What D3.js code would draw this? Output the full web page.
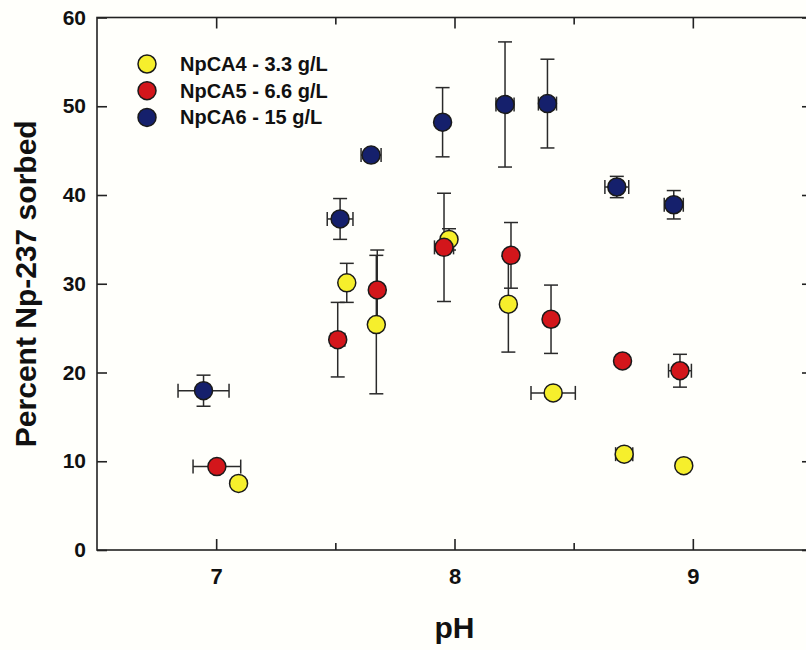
<!DOCTYPE html>
<html>
<head>
<meta charset="utf-8">
<script src="https://cdn.jsdelivr.net/npm/d3@7/dist/d3.min.js"></script>
<style>
  html, body { margin: 0; padding: 0; background: #fffffb; }
  svg { display: block; font-family: "Liberation Sans", Arial, sans-serif; font-weight: bold; }
</style>
</head>
<body>
<svg id="chart" width="806" height="650"></svg>
<script>
// Np-237 sorption vs pH for three solid loadings
const seriesNames = ["NpCA4 - 3.3 g/L", "NpCA5 - 6.6 g/L", "NpCA6 - 15 g/L"];
const seriesColors = ["#f6ef2c", "#d3161b", "#15206c"];

const npca4_pH   = [7.094, 7.548, 7.672, 7.977, 8.226, 8.414, 8.712, 8.962];
const npca4_pct  = [7.5, 30.1, 25.4, 35.0, 27.7, 17.7, 10.8, 9.5];
const npca4_yErr = [0, 2.2, 7.8, 1.2, 5.4, 0, 0, 0];
const npca4_xErr = [0, 0, 0, 0, 0, 0.093, 0.036, 0];

const npca5_pH   = [7.003, 7.51, 7.676, 7.956, 8.237, 8.405, 8.705, 8.946];
const npca5_pct  = [9.4, 23.7, 29.3, 34.1, 33.2, 26.0, 21.3, 20.2];
const npca5_yErr = [0, 4.2, 4.5, 6.1, 3.7, 3.85, 0, 1.85];
const npca5_xErr = [0.1, 0.03, 0, 0.04, 0, 0, 0, 0.048];

const npca6_pH   = [6.947, 7.52, 7.65, 7.95, 8.212, 8.39, 8.681, 8.92];
const npca6_pct  = [17.95, 37.3, 44.5, 48.2, 50.2, 50.3, 40.9, 38.9];
const npca6_yErr = [1.75, 2.3, 0, 3.9, 7.05, 5.0, 1.2, 1.6];
const npca6_xErr = [0.107, 0.054, 0.042, 0, 0.038, 0.038, 0.05, 0.04];

const xMajorTicks = [7, 8, 9];
const xMinorTicks = [7.5, 8.5];
const yTicks = [0, 10, 20, 30, 40, 50, 60];

const series = [
  { name: seriesNames[0], color: seriesColors[0], pH: npca4_pH, pct: npca4_pct, yErr: npca4_yErr, xErr: npca4_xErr },
  { name: seriesNames[1], color: seriesColors[1], pH: npca5_pH, pct: npca5_pct, yErr: npca5_yErr, xErr: npca5_xErr },
  { name: seriesNames[2], color: seriesColors[2], pH: npca6_pH, pct: npca6_pct, yErr: npca6_yErr, xErr: npca6_xErr }
];

const svg = d3.select("#chart");
const plotL = 97, plotR = 812, plotT = 17.5, plotB = 550;

const x = d3.scaleLinear().domain([6.5, 9.5]).range([plotL, plotR]);
const y = d3.scaleLinear().domain([0, 60]).range([plotB, plotT]);

const ink = "#222";

// frame
svg.append("rect")
  .attr("x", plotL).attr("y", plotT)
  .attr("width", plotR - plotL).attr("height", plotB - plotT)
  .attr("fill", "none").attr("stroke", ink).attr("stroke-width", 1.6);

function styleAxis(g) {
  g.select(".domain").remove();
  g.selectAll(".tick line").attr("stroke", ink).attr("stroke-width", 1.6);
  g.selectAll(".tick text").attr("fill", "#111").attr("font-weight", "bold");
}

// bottom axis: major ticks with labels, minor ticks without
svg.append("g").attr("transform", `translate(0,${plotB})`)
  .call(d3.axisBottom(x).tickValues(xMajorTicks).tickSizeInner(-11).tickSizeOuter(0)
        .tickPadding(18).tickFormat(d3.format("d")))
  .call(styleAxis)
  .call(g => g.selectAll(".tick text").attr("font-size", 22));
svg.append("g").attr("transform", `translate(0,${plotB})`)
  .call(d3.axisBottom(x).tickValues(xMinorTicks).tickSizeInner(-7).tickSizeOuter(0).tickFormat(""))
  .call(styleAxis);

// top axis mirrors the bottom ticks
svg.append("g").attr("transform", `translate(0,${plotT})`)
  .call(d3.axisTop(x).tickValues(xMajorTicks).tickSizeInner(-11).tickSizeOuter(0).tickFormat(""))
  .call(styleAxis);
svg.append("g").attr("transform", `translate(0,${plotT})`)
  .call(d3.axisTop(x).tickValues(xMinorTicks).tickSizeInner(-7).tickSizeOuter(0).tickFormat(""))
  .call(styleAxis);

// left axis
svg.append("g").attr("transform", `translate(${plotL},0)`)
  .call(d3.axisLeft(y).tickValues(yTicks).tickSizeInner(-10).tickSizeOuter(0).tickPadding(11))
  .call(styleAxis)
  .call(g => g.selectAll(".tick text").attr("font-size", 21));

// right axis
svg.append("g").attr("transform", `translate(${plotR},0)`)
  .call(d3.axisRight(y).tickValues(yTicks).tickSizeInner(-10).tickSizeOuter(0).tickFormat(""))
  .call(styleAxis);

// axis titles
svg.append("text")
  .attr("x", x(8)).attr("y", 638)
  .attr("text-anchor", "middle")
  .attr("font-size", 30).attr("fill", "#111")
  .text("pH");

svg.append("text")
  .attr("transform", `translate(36,${(plotT + plotB) / 2}) rotate(-90)`)
  .attr("text-anchor", "middle")
  .attr("font-size", 30).attr("fill", "#111")
  .text("Percent Np-237 sorbed");

// error bars
const cap = 7;
const errG = svg.append("g").attr("stroke", "#2a2a2a").attr("stroke-width", 1.5).attr("fill", "none");
series.forEach(s => {
  s.pH.forEach((p, i) => {
    const cx = x(p), cy = y(s.pct[i]);
    const ye = s.yErr[i], xe = s.xErr[i];
    if (ye > 0) {
      const y1 = y(s.pct[i] + ye), y2 = y(s.pct[i] - ye);
      errG.append("line").attr("x1", cx).attr("x2", cx).attr("y1", y1).attr("y2", y2);
      errG.append("line").attr("x1", cx - cap).attr("x2", cx + cap).attr("y1", y1).attr("y2", y1);
      errG.append("line").attr("x1", cx - cap).attr("x2", cx + cap).attr("y1", y2).attr("y2", y2);
    }
    if (xe > 0) {
      const x1 = x(p - xe), x2 = x(p + xe);
      errG.append("line").attr("x1", x1).attr("x2", x2).attr("y1", cy).attr("y2", cy);
      errG.append("line").attr("x1", x1).attr("x2", x1).attr("y1", cy - cap).attr("y2", cy + cap);
      errG.append("line").attr("x1", x2).attr("x2", x2).attr("y1", cy - cap).attr("y2", cy + cap);
    }
  });
});

// markers
series.forEach(s => {
  svg.append("g").selectAll("circle")
    .data(s.pH.map((p, i) => ({ p, v: s.pct[i] })))
    .join("circle")
    .attr("cx", d => x(d.p)).attr("cy", d => y(d.v))
    .attr("r", 9)
    .attr("fill", s.color)
    .attr("stroke", "#1a1a1a").attr("stroke-width", 1.5);
});

// legend
const legend = svg.append("g").attr("transform", "translate(147,64)");
series.forEach((s, i) => {
  const row = legend.append("g").attr("transform", `translate(0,${i * 26.7})`);
  row.append("circle").attr("r", 9).attr("fill", s.color)
    .attr("stroke", "#1a1a1a").attr("stroke-width", 1.5);
  row.append("text").attr("x", 33).attr("y", 7)
    .attr("font-size", 20).attr("fill", "#111")
    .text(s.name);
});
</script>
</body>
</html>
